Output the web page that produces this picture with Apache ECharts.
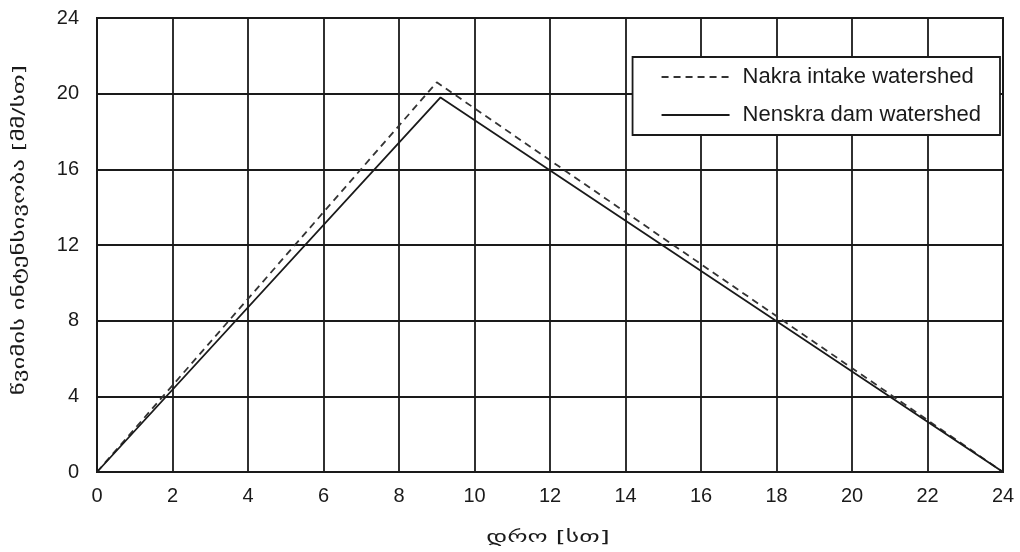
<!DOCTYPE html>
<html>
<head>
<meta charset="utf-8">
<style>
  html, body { margin: 0; padding: 0; background: #fff; }
  #chart { width: 1020px; height: 552px; }
</style>
<script src="https://cdn.jsdelivr.net/npm/echarts@6/dist/echarts.min.js"></script>
</head>
<body>
<div id="chart"></div>
<script>
// Triangular design hyetographs for the two watersheds
const seriesNames = ['Nakra intake watershed', 'Nenskra dam watershed'];
const nakraTime = [0, 9.0, 24];
const nakraIntensity = [0, 20.6, 0];
const nenskraTime = [0, 9.1, 24];
const nenskraIntensity = [0, 19.8, 0];

const xTicks = [0, 2, 4, 6, 8, 10, 12, 14, 16, 18, 20, 22, 24];
const yTicks = [0, 4, 8, 12, 16, 20, 24];

const xName = 'დრო [სთ]';
const yName = 'წვიმის ინტენსივობა [მმ/სთ]';

const pairs = (xs, ys) => xs.map((x, i) => [x, ys[i]]);
const font = '"Liberation Sans", Arial, "DejaVu Sans", sans-serif';
const geoFont = '"DejaVu Sans", sans-serif';
const ink = '#1a1a1a';

const grid = { left: 97, right: 17, top: 18, bottom: 80 };
const W = 1020, H = 552;
const plotMidX = grid.left + (W - grid.left - grid.right) / 2;
const plotMidY = grid.top + (H - grid.top - grid.bottom) / 2;

const chart = echarts.init(document.getElementById('chart'), null, { renderer: 'canvas' });
chart.setOption({
  animation: false,
  backgroundColor: '#fff',
  textStyle: { fontFamily: font },
  grid: Object.assign({ show: true, borderColor: ink, borderWidth: 2 }, grid),
  legend: {
    orient: 'vertical',
    right: 20,
    top: 57,
    backgroundColor: '#fff',
    borderColor: ink,
    borderWidth: 1.8,
    borderRadius: 0,
    padding: [9, 19, 9, 28],
    itemWidth: 68,
    itemHeight: 14,
    itemGap: 16,
    itemStyle: { opacity: 0 },
    textStyle: { fontFamily: font, fontSize: 22, lineHeight: 22, color: ink, padding: [0, 0, 0, 8] },
    data: seriesNames
  },
  // Axis titles drawn as graphic text so the Georgian glyphs can be widened
  graphic: [
    {
      type: 'text',
      x: 20,
      y: plotMidY - 15,
      rotation: Math.PI / 2,
      scaleX: 1.55,
      style: {
        text: yName,
        font: '16px ' + geoFont,
        fill: ink,
        align: 'center',
        verticalAlign: 'middle'
      }
    },
    {
      type: 'text',
      x: plotMidX - 2,
      y: 538,
      scaleX: 1.6,
      style: {
        text: xName,
        font: '16px ' + geoFont,
        fill: ink,
        align: 'center',
        verticalAlign: 'middle'
      }
    }
  ],
  xAxis: {
    type: 'value',
    min: xTicks[0],
    max: xTicks[xTicks.length - 1],
    interval: xTicks[1] - xTicks[0],
    axisLine: { show: true, lineStyle: { color: ink, width: 2 } },
    axisTick: { show: false },
    axisLabel: { fontFamily: font, fontSize: 20, color: ink, margin: 14 },
    splitLine: { show: true, lineStyle: { color: ink, width: 1.8 } }
  },
  yAxis: {
    type: 'value',
    min: yTicks[0],
    max: yTicks[yTicks.length - 1],
    interval: yTicks[1] - yTicks[0],
    axisLine: { show: true, lineStyle: { color: ink, width: 2 } },
    axisTick: { show: false },
    axisLabel: { fontFamily: font, fontSize: 20, color: ink, margin: 18 },
    splitLine: { show: true, lineStyle: { color: ink, width: 1.8 } }
  },
  series: [
    {
      name: seriesNames[0],
      type: 'line',
      data: pairs(nakraTime, nakraIntensity),
      symbol: 'none',
      color: '#333',
      lineStyle: { color: '#333', width: 1.8, type: [7, 5] }
    },
    {
      name: seriesNames[1],
      type: 'line',
      data: pairs(nenskraTime, nenskraIntensity),
      symbol: 'none',
      color: ink,
      lineStyle: { color: ink, width: 1.8, type: 'solid' }
    }
  ]
});
</script>
</body>
</html>
